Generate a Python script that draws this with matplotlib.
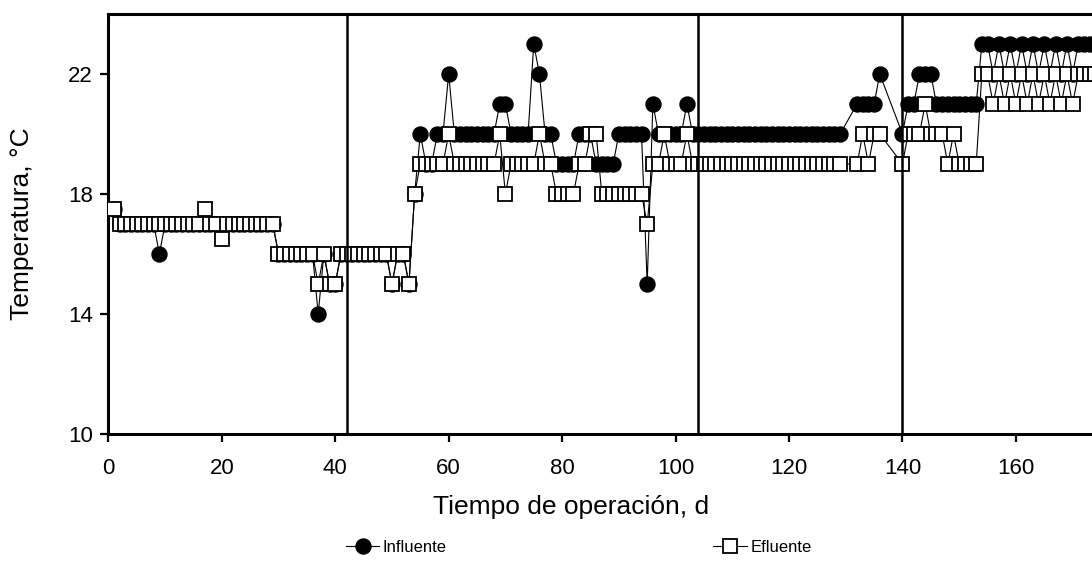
import matplotlib
matplotlib.use("Agg")
import matplotlib.pyplot as plt
from matplotlib.lines import Line2D

plt.rcParams['font.family'] = ['Liberation Sans', 'DejaVu Sans']

# operation days (no readings on days 130-131 and 137-139)
days = list(range(1, 130)) + list(range(132, 137)) + list(range(140, 177))

influente = [
    17.5, 17, 17, 17, 17, 17, 17, 17, 16, 17,        # 1-10
    17, 17, 17, 17, 17, 17, 17, 17, 17, 17,          # 11-20
    17, 17, 17, 17, 17, 17, 17, 17, 17, 16,          # 21-30
    16, 16, 16, 16, 16, 16, 14, 16, 15, 15,          # 31-40
    16, 16, 16, 16, 16, 16, 16, 16, 16, 15,          # 41-50
    16, 16, 15, 18, 20, 19, 19, 20, 20, 22,          # 51-60
    20, 20, 20, 20, 20, 20, 20, 20, 21, 21,          # 61-70
    20, 20, 20, 20, 23, 22, 20, 20, 19, 19,          # 71-80
    19, 19, 20, 20, 20, 19, 19, 19, 19, 20,          # 81-90
    20, 20, 20, 20, 15, 21, 20, 20, 20, 20,          # 91-100
    20, 21, 20, 20, 20, 20, 20, 20, 20, 20,          # 101-110
    20, 20, 20, 20, 20, 20, 20, 20, 20, 20,          # 111-120
    20, 20, 20, 20, 20, 20, 20, 20, 20,              # 121-129
    21, 21, 21, 21, 22,                              # 132-136
    20, 21, 21, 22, 22, 22, 21, 21, 21, 21,          # 140-149
    21, 21, 21, 21, 23, 23, 22, 23, 22, 23,          # 150-159
    22, 23, 22, 23, 22, 23, 22, 23, 22, 23,          # 160-169
    22, 23, 23, 23, 23, 23, 23,                      # 170-176
]

efluente = [
    17.5, 17, 17, 17, 17, 17, 17, 17, 17, 17,        # 1-10
    17, 17, 17, 17, 17, 17, 17.5, 17, 17, 16.5,      # 11-20
    17, 17, 17, 17, 17, 17, 17, 17, 17, 16,          # 21-30
    16, 16, 16, 16, 16, 16, 15, 16, 15, 15,          # 31-40
    16, 16, 16, 16, 16, 16, 16, 16, 16, 15,          # 41-50
    16, 16, 15, 18, 19, 19, 19, 19, 19, 20,          # 51-60
    19, 19, 19, 19, 19, 19, 19, 19, 20, 18,          # 61-70
    19, 19, 19, 19, 19, 20, 19, 19, 18, 18,          # 71-80
    18, 18, 19, 19, 20, 20, 18, 18, 18, 18,          # 81-90
    18, 18, 18, 18, 17, 19, 19, 20, 19, 19,          # 91-100
    19, 20, 19, 19, 19, 19, 19, 19, 19, 19,          # 101-110
    19, 19, 19, 19, 19, 19, 19, 19, 19, 19,          # 111-120
    19, 19, 19, 19, 19, 19, 19, 19, 19,              # 121-129
    19, 20, 19, 20, 20,                              # 132-136
    19, 20, 20, 20, 21, 20, 20, 20, 19, 20,          # 140-149
    19, 19, 19, 19, 22, 22, 21, 22, 21, 22,          # 150-159
    21, 22, 21, 22, 21, 22, 21, 22, 21, 22,          # 160-169
    21, 22, 22, 22, 22, 22, 22,                      # 170-176
]

# days where the operating phase changes
phase_limits = [42, 104, 140]

circle_style = dict(color='black', lw=0.8, marker='o', ms=10.8, mfc='black', mec='black')
square_style = dict(color='black', lw=0.8, marker='s', ms=9.4, mfc='white', mec='black', mew=1.3)

fig = plt.figure(figsize=(10.92, 5.70), dpi=100)
# right end of the x range (180) falls just outside the figure
ax = fig.add_axes([0.0992, 0.2386, 0.935, 0.7368])

ax.plot(days, influente, zorder=2, **circle_style)
ax.plot(days, efluente, zorder=3, **square_style)

for d in phase_limits:
    ax.axvline(d, color='black', lw=1.8, zorder=4)

ax.set_xlim(0, 180)
ax.set_ylim(10, 24)
ax.set_xticks(range(0, 161, 20))
ax.set_yticks([10, 14, 18, 22])

ax.spines['right'].set_visible(False)
for s in ['left', 'bottom', 'top']:
    ax.spines[s].set_linewidth(2.2)
ax.tick_params(direction='out', length=6, width=1.6, labelsize=16)
ax.tick_params(axis='x', pad=11)
ax.tick_params(axis='y', pad=5)

ax.set_xlabel('Tiempo de operación, d', fontsize=19)
ax.xaxis.set_label_coords(0.453, -0.146)
ax.set_ylabel('Temperatura, °C', fontsize=19)
ax.yaxis.set_label_coords(-0.073, 0.5)

handles = [Line2D([], [], **circle_style), Line2D([], [], **square_style)]
fig.legend(handles, ['Influente', 'Efluente'], loc='center', bbox_to_anchor=(0.53, 0.04),
           ncol=2, frameon=False, fontsize=12, handlelength=2.0, handletextpad=0.2,
           columnspacing=16)

fig.savefig('out.png', dpi=100)
